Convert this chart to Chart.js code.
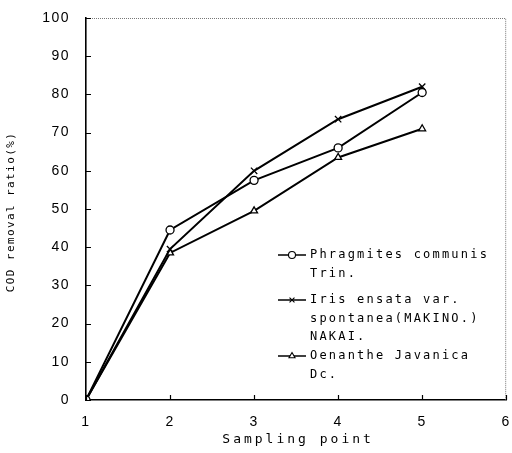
<!DOCTYPE html>
<html>
<head>
<meta charset="utf-8">
<script src="https://cdn.jsdelivr.net/npm/chart.js@4/dist/chart.umd.min.js"></script>
<style>
  html, body { margin: 0; padding: 0; background: #fff; }
  #cod-chart { display: block; }
</style>
</head>
<body>
<canvas id="cod-chart" width="512" height="453"></canvas>
<script>
// COD removal ratio (%) at each sampling point
var samplingPoints = [1, 2, 3, 4, 5];
var phragmites = [0, 44.5, 57.5, 66, 80.5];
var iris = [0, 39.5, 60, 73.5, 82];
var oenanthe = [0, 38.5, 49.5, 63.5, 71];

var xTicks = [1, 2, 3, 4, 5, 6];
var yTicks = [0, 10, 20, 30, 40, 50, 60, 70, 80, 90, 100];

var legendLines = [
  ['Phragmites communis', 'Trin.'],
  ['Iris ensata var.', 'spontanea(MAKINO.)', 'NAKAI.'],
  ['Oenanthe Javanica', 'Dc.']
];

function toPoints(ys) {
  return samplingPoints.map(function(x, i) { return { x: x, y: ys[i] }; });
}

function series(label, ys, style) {
  return {
    label: label,
    data: toPoints(ys),
    borderColor: '#000',
    borderWidth: 2,
    backgroundColor: '#fff',
    pointStyle: style,
    pointRadius: style === 'crossRot' ? 4.5 : 4,
    pointBorderColor: '#000',
    pointBackgroundColor: '#fff',
    pointBorderWidth: 1.3,
    tension: 0
  };
}

var tickFont = { family: 'Liberation Sans, Arial, sans-serif', size: 14 };

// frame, inward ticks, axis titles and the in-plot legend
var decorations = {
  id: 'decorations',
  beforeDraw: function(chart) {
    chart.ctx.letterSpacing = '1.5px';
  },
  afterDraw: function(chart) {
    var ctx = chart.ctx;
    var a = chart.chartArea;
    var xs = chart.scales.x, ys = chart.scales.y;
    ctx.save();

    // top and right frame
    ctx.strokeStyle = '#777';
    ctx.lineWidth = 1;
    ctx.setLineDash([1, 1]);
    ctx.beginPath();
    ctx.moveTo(a.left, a.top + 0.5);
    ctx.lineTo(a.right - 0.5, a.top + 0.5);
    ctx.lineTo(a.right - 0.5, a.bottom);
    ctx.stroke();
    ctx.setLineDash([]);

    // inward tick marks
    ctx.strokeStyle = '#000';
    ctx.lineWidth = 1.2;
    ctx.beginPath();
    yTicks.forEach(function(v) {
      var py = Math.round(ys.getPixelForValue(v)) + 0.5;
      ctx.moveTo(a.left, py);
      ctx.lineTo(a.left + 5, py);
    });
    xTicks.forEach(function(v) {
      var px = Math.round(xs.getPixelForValue(v)) + 0.5;
      ctx.moveTo(px, a.bottom);
      ctx.lineTo(px, a.bottom - 5);
    });
    ctx.stroke();

    // axis titles
    ctx.fillStyle = '#000';
    ctx.font = '13px "DejaVu Sans Mono", monospace';
    ctx.letterSpacing = '3px';
    ctx.textAlign = 'center';
    ctx.textBaseline = 'middle';
    ctx.fillText('Sampling point', (a.left + a.right) / 2 + 2, 440);

    ctx.save();
    ctx.translate(11, 212);
    ctx.rotate(-Math.PI / 2);
    ctx.font = '11px "DejaVu Sans Mono", monospace';
    ctx.letterSpacing = '1.4px';
    ctx.fillText('COD removal ratio(%)', 0, 0);
    ctx.restore();

    // legend
    var rows = [255, 300, 356];
    ctx.font = '12px "DejaVu Sans Mono", monospace';
    ctx.letterSpacing = '2.2px';
    ctx.textAlign = 'left';
    chart.data.datasets.forEach(function(ds, i) {
      var y0 = rows[i];
      ctx.strokeStyle = '#000';
      ctx.lineWidth = 1.5;
      ctx.beginPath();
      ctx.moveTo(278, y0);
      ctx.lineTo(306, y0);
      ctx.stroke();
      ctx.fillStyle = '#fff';
      ctx.lineWidth = 1.1;
      Chart.helpers.drawPoint(ctx, {
        pointStyle: ds.pointStyle,
        radius: 3.5,
        borderWidth: 1.1
      }, 292, y0);
      ctx.fillStyle = '#000';
      legendLines[i].forEach(function(t, j) {
        ctx.fillText(t, 310, y0 + j * 18.5);
      });
    });
    ctx.restore();
  }
};

new Chart(document.getElementById('cod-chart'), {
  type: 'line',
  data: {
    datasets: [
      series('Phragmites communis Trin.', phragmites, 'circle'),
      series('Iris ensata var. spontanea(MAKINO.) NAKAI.', iris, 'crossRot'),
      series('Oenanthe Javanica Dc.', oenanthe, 'triangle')
    ]
  },
  options: {
    responsive: false,
    animation: false,
    layout: { padding: { top: 18, right: 4, left: 0, bottom: 0 } },
    plugins: { legend: { display: false }, tooltip: { enabled: false } },
    scales: {
      x: {
        type: 'linear',
        min: 1,
        max: 6,
        afterBuildTicks: function(s) { s.ticks = xTicks.map(function(v) { return { value: v }; }); },
        afterFit: function(s) {
          s.height = 53;
          s.paddingLeft = 0;
          s.paddingRight = 0;
        },
        grid: { display: true, drawOnChartArea: false, drawTicks: false },
        border: { display: true, color: '#000', width: 1.6 },
        ticks: { color: '#000', font: tickFont, padding: 14, maxRotation: 0 }
      },
      y: {
        min: 0,
        max: 100,
        afterBuildTicks: function(s) { s.ticks = yTicks.map(function(v) { return { value: v }; }); },
        afterFit: function(s) {
          s.width = 86;
          s.paddingTop = 0;
          s.paddingBottom = 0;
        },
        grid: { display: true, drawOnChartArea: false, drawTicks: false },
        border: { display: true, color: '#000', width: 1.6 },
        ticks: { color: '#000', font: tickFont, padding: 16 }
      }
    }
  },
  plugins: [decorations]
});
</script>
</body>
</html>
